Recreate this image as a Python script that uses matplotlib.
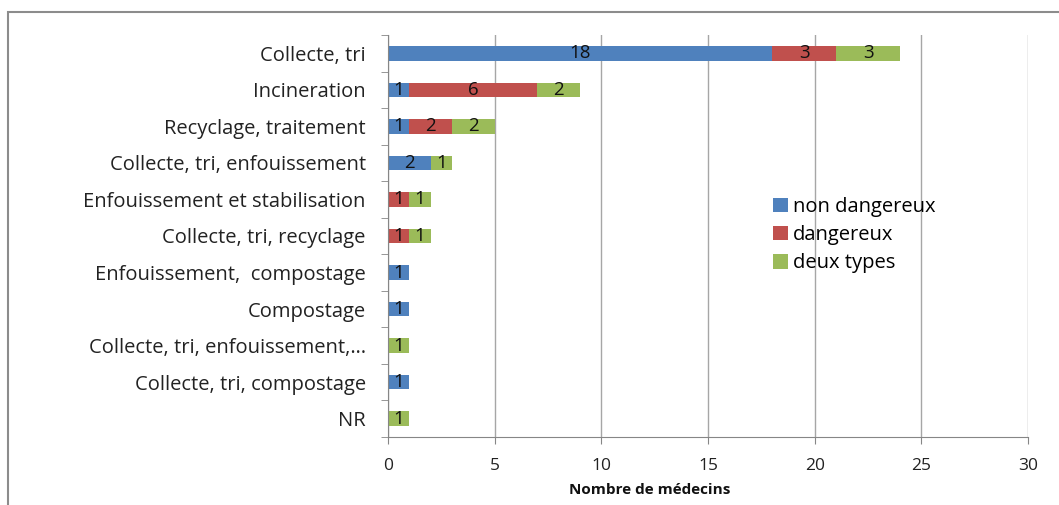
import matplotlib
matplotlib.use("Agg")
import matplotlib.pyplot as plt
from matplotlib.patches import Rectangle
import numpy as np

categories = [
    "Collecte, tri",
    "Incineration",
    "Recyclage, traitement",
    "Collecte, tri, enfouissement",
    "Enfouissement et stabilisation",
    "Collecte, tri, recyclage",
    "Enfouissement,  compostage",
    "Compostage",
    "Collecte, tri, enfouissement,\u2026",
    "Collecte, tri, compostage",
    "NR",
]
non_dangereux = [18, 1, 1, 2, 0, 0, 1, 1, 0, 1, 0]
dangereux = [3, 6, 2, 0, 1, 1, 0, 0, 0, 0, 0]
deux_types = [3, 2, 2, 1, 1, 1, 0, 0, 1, 0, 1]
series_names = ["non dangereux", "dangereux", "deux types"]
colors = ["#4F81BD", "#C0504D", "#9BBB59"]
xticks = [0, 5, 10, 15, 20, 25, 30]

plt.rcParams['font.family'] = ['Open Sans', 'DejaVu Sans']

W, H = 1059, 505
fig = plt.figure(figsize=(W / 100, H / 100), dpi=100)
# outer frame
fig.patches.append(Rectangle((8 / W, -0.1), 1.2, 1 - 12 / H + 0.1, transform=fig.transFigure,
                             fill=False, edgecolor="#8c8c8c", linewidth=1.5))

ax = fig.add_axes([388 / W, 1 - 437 / H, (1028 - 388) / W, (437 - 35) / H])
y = np.arange(len(categories))
left = np.zeros(len(categories))
for vals, name, c in zip([non_dangereux, dangereux, deux_types], series_names, colors):
    vals = np.array(vals, dtype=float)
    ax.barh(y, vals, left=left, height=0.4, color=c, label=name)
    for yi, v, l in zip(y, vals, left):
        if v > 0:
            ax.text(l + v / 2, yi, f"{int(v)}", ha="center", va="center", fontsize=13.5, color="#111111")
    left += vals

ax.set_xlim(0, 30)
ax.set_ylim(len(categories) - 0.5, -0.5)
ax.set_xticks(xticks)
ax.set_xticklabels([str(t) for t in xticks], fontsize=12.5, color="#222222")
ax.set_yticks(y)
ax.set_yticklabels(categories, fontsize=14.5, color="#222222")
ax.tick_params(axis="y", length=0, pad=16)
ax.tick_params(axis="x", length=5, color="#868686", pad=10)
# y category boundary ticks
ax.set_yticks(np.arange(-0.5, len(categories), 1), minor=True)
ax.tick_params(axis="y", which="minor", length=5, color="#868686")
ax.xaxis.grid(True, color="#a6a6a6", linewidth=1)
ax.set_axisbelow(True)
for s in ["top", "right"]:
    ax.spines[s].set_visible(False)
for s in ["left", "bottom"]:
    ax.spines[s].set_color("#868686")
ax.set_xlabel("")
fig.text(650 / W, 1 - 490 / H, "Nombre de médecins", fontsize=11, fontweight="bold",
         ha="center", va="center", color="#111111")

leg = ax.legend(loc="upper left", bbox_to_anchor=((765 - 388) / 640, (437 - 189) / 402),
                frameon=False, fontsize=14.5, handlelength=0.75, handleheight=0.75,
                handletextpad=0.25, labelspacing=0.4, borderaxespad=0)

fig.savefig("out.png", dpi=100)
